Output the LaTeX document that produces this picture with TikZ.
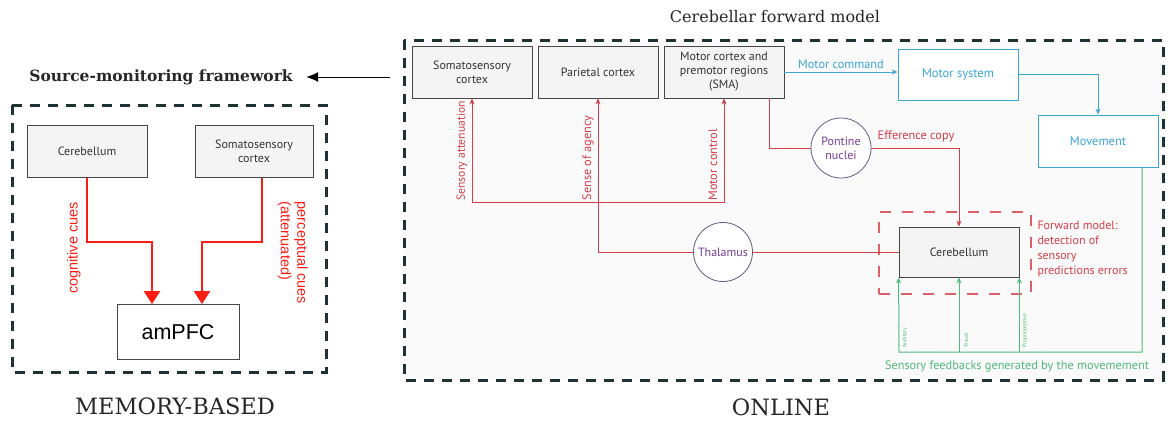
\documentclass[tikz,border=0pt]{standalone}
\usepackage{fontspec}
\setmainfont{PT Sans}
\newfontfamily\arialfont{Liberation Sans}
\newfontfamily\slabfont{DejaVu Serif}
\usetikzlibrary{arrows.meta}
\definecolor{framecol}{RGB}{30,50,52}
\definecolor{boxline}{RGB}{70,70,70}
\definecolor{boxfill}{RGB}{244,244,244}
\definecolor{cuered}{RGB}{250,30,20}
\definecolor{linered}{RGB}{210,62,72}
\definecolor{fwdred}{RGB}{220,95,105}
\definecolor{motblue}{RGB}{60,165,215}
\definecolor{feedgreen}{RGB}{80,185,120}
\definecolor{nucpurple}{RGB}{120,60,150}
\definecolor{nucline}{RGB}{105,90,125}

\begin{document}
\begin{tikzpicture}[x=1pt, y=-1pt,
		area/.style={draw=framecol, line width=3pt, dash pattern=on 10pt off 8pt},
		region/.style={shape=rectangle, draw=boxline, fill=boxfill, line width=0.8pt, align=center, font=\fontsize{12}{14}\selectfont, text=black!80},
		motorbox/.style={shape=rectangle, draw=motblue, fill=white, line width=0.9pt, text=motblue, font=\fontsize{12.5}{14}\selectfont},
		nucleus/.style={shape=circle, draw=nucline, fill=white, line width=0.8pt, align=center, inner sep=0pt, text=nucpurple, font=\fontsize{12}{14}\selectfont},
		fwdbox/.style={shape=rectangle, draw=fwdred, line width=1.2pt, dash pattern=on 11pt off 11pt},
		cue/.style={draw=cuered, line width=2.2pt, -{Triangle[length=13pt,width=16pt]}},
		cuetext/.style={text=cuered, font=\arialfont\fontsize{14.5}{16.5}\selectfont},
		redline/.style={draw=linered, line width=1pt},
		redarrow/.style={redline, -{Stealth[length=6pt,width=5pt]}},
		redtxt/.style={text=linered, font=\fontsize{12.3}{14}\selectfont},
		bluearrow/.style={draw=motblue, line width=1pt, -{Stealth[length=6pt,width=5pt]}},
		feed/.style={draw=feedgreen, line width=1pt, -{Stealth[length=6pt,width=5pt]}},
		feedtxt/.style={text=feedgreen, font=\fontsize{5.5}{6}\selectfont},
		title/.style={text=black!85, font=\slabfont\fontsize{16}{18}\selectfont},
		kind/.style={text=black!85, font=\slabfont\fontsize{22.5}{25}\selectfont}]
	\useasboundingbox (0,0) rectangle (1168,424);

	% Memory-based
	\draw[area] (12,105) rectangle (326,372);
	\node[region, minimum width=120pt, minimum height=52pt] (lcer) at (87,151.5){Cerebellum};
	\node[region, minimum width=118pt, minimum height=52pt] (lsom) at (254,151.5){Somatosensory\\cortex};
	\node[shape=rectangle, draw=boxline, fill=white, line width=0.8pt, minimum width=122pt, minimum height=55pt, font=\arialfont\fontsize{21.5}{25}\selectfont] (ampfc) at (178,332){amPFC};

	\coordinate (lcue1) at (152,242);
	\coordinate (lcue2) at (202,242);
	\draw[cue] (lcer.south) |- (lcue1) -- (lcue1 |- ampfc.north);
	\draw[cue] ([xshift=8pt]lsom.south) |- (lcue2) -- (lcue2 |- ampfc.north);
	\node[cuetext, rotate=90] (cogn) at (74,248){cognitive cues};
	\node[cuetext, rotate=-90, align=left] (perc) at (293,253){perceptual cues\\(attenuated)};

	\node[title, font=\slabfont\bfseries\fontsize{15.5}{18}\selectfont] (smf) at (161,77){Source-monitoring framework};
	\coordinate (smsrc) at (390,77);
	\draw[line width=1pt, -{Latex[length=12pt,width=10pt]}, shorten >=10pt] (smsrc) -- (smf.east);
	\node[kind] (memb) at (175,406){MEMORY-BASED};

	% Online
	\draw[area, fill=black!2] (404,40) rectangle (1163,380);
	\node[title] (cfm) at (775,17){Cerebellar forward model};
	\node[kind] (onl) at (781,407){ONLINE};

	\node[region, minimum width=120pt, minimum height=52pt] (rsom) at (472,72){Somatosensory\\cortex};
	\node[region, minimum width=120pt, minimum height=52pt] (par) at (598,72){Parietal cortex};
	\node[region, minimum width=120pt, minimum height=52pt] (mot) at (724,72){Motor cortex and\\premotor regions\\(SMA)};
	\node[motorbox, minimum width=120pt, minimum height=51pt] (msys) at (958,74.5){Motor system};
	\node[motorbox, minimum width=120pt, minimum height=52pt] (mov) at (1098,141){Movement};

	\node[fwdbox, minimum width=152pt, minimum height=82pt] (fwd) at (955,253){};
	\node[region, minimum width=120pt, minimum height=50pt] (rcer) at (959,252){Cerebellum};
	\node[text=linered, anchor=west, align=left, font=\fontsize{12}{14.8}\selectfont] (fwdtxt) at (1034,249){Forward model:\\detection of\\sensory\\predictions errors};

	\node[nucleus, minimum size=60pt] (pon) at (841,148){Pontine\\nuclei};
	\node[nucleus, minimum size=59pt] (thal) at (723,252){Thalamus};

	% motor command
	\draw[bluearrow] (mot.east) -- (mot.east -| msys.west) node[midway, above, text=motblue, font=\fontsize{12.3}{14}\selectfont]{Motor command};
	\draw[bluearrow] (msys.east) -| (mov.north);

	% efference copy
	\draw[redline] ([xshift=45pt]mot.south) |- (pon.west);
	\draw[redarrow] (pon.east) -| (rcer.north);
	\node[redtxt] (eff) at (916,136){Efference copy};

	% thalamus
	\coordinate (sensj) at (598,202);
	\draw[redline] (rcer.west) -- (thal.east);
	\draw[redarrow] (thal.west) -| (par.south);
	\draw[redarrow] (sensj) -| (rsom.south);
	\draw[redarrow] (sensj) -| (mot.south);
	\node[redtxt, rotate=90, anchor=west, font=\fontsize{11.6}{14}\selectfont] (satt) at (462,204){Sensory attenuation};
	\node[redtxt, rotate=90, anchor=west] (sagc) at (588,204){Sense of agency};
	\node[redtxt, rotate=90, anchor=west] (mctl) at (713,204){Motor control};

	% sensory feedbacks
	\coordinate (fbl) at (899,352);
	\draw[feed] ([xshift=44pt]mov.south) |- (fbl) -- (rcer.south west);
	\draw[feed] (rcer.south |- fbl) -- (rcer.south);
	\draw[feed] (rcer.south east |- fbl) -- (rcer.south east);
	\node[feedtxt, rotate=90, anchor=west] (aud) at (905,351){Auditory};
	\node[feedtxt, rotate=90, anchor=west] (vis) at (966,351){Visual};
	\node[feedtxt, rotate=90, anchor=west] (prop) at (1025,351){Proprioceptive};
	\node[text=feedgreen, font=\fontsize{12.3}{14}\selectfont] (sfb) at (1017,366){Sensory feedbacks generated by the movemement};
\end{tikzpicture}
\end{document}
